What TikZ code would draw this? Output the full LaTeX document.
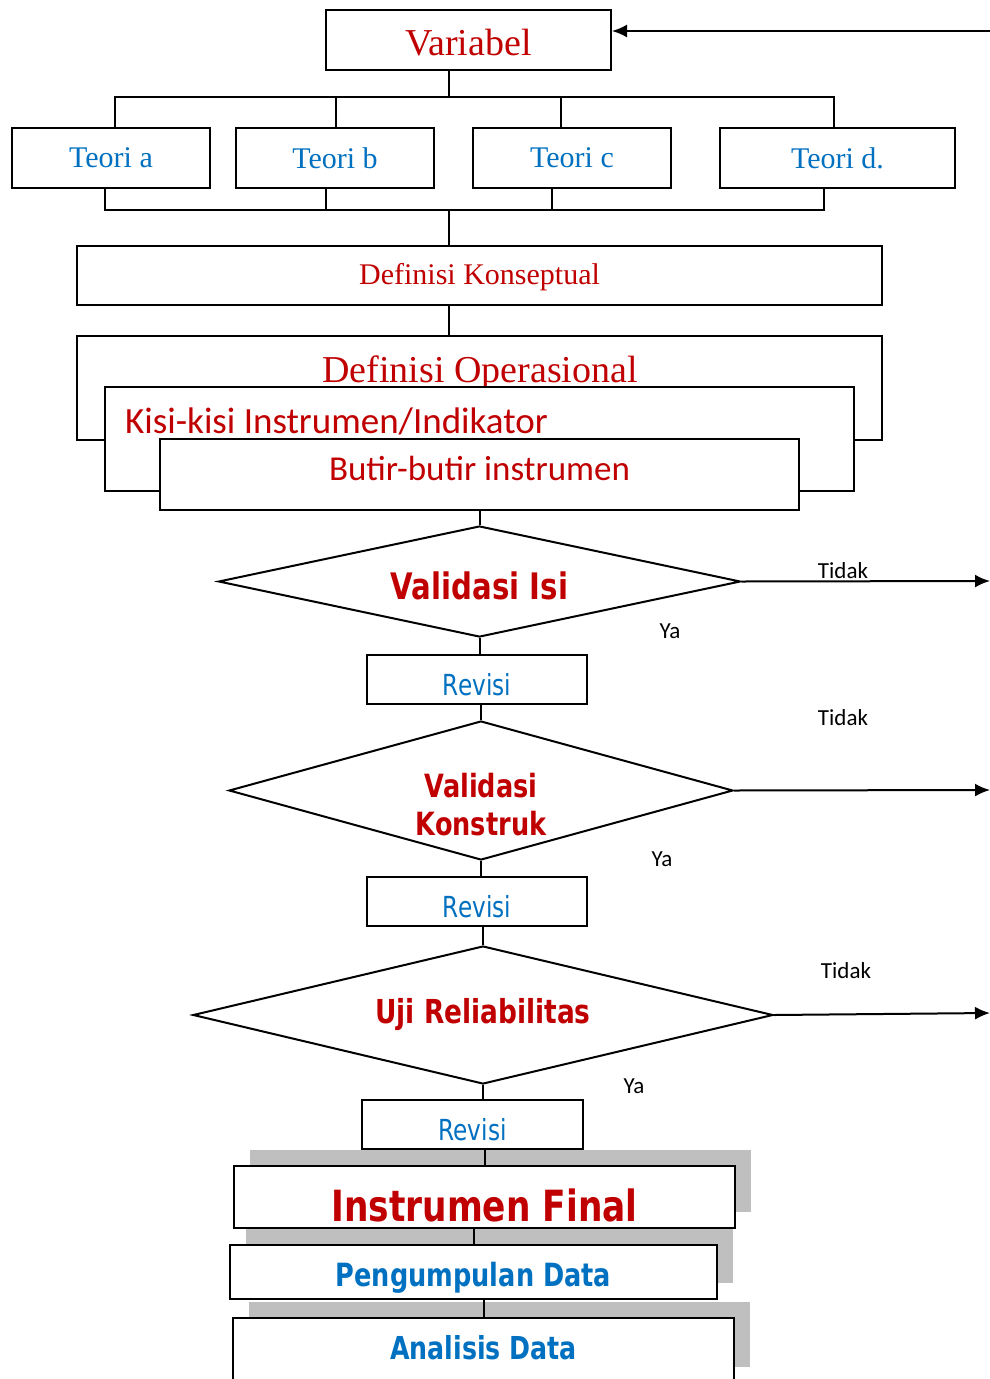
\documentclass[tikz,border=0pt]{standalone}
\usepackage{fontspec}
\setmainfont{Liberation Serif}
\newfontfamily\califont{Carlito}
\newfontfamily\tahofont[FakeStretch=0.8]{DejaVu Sans}
\usepackage{tikz}
\usetikzlibrary{shapes,arrows.meta,shadows}
\usetikzlibrary{calc}
\definecolor{darkred}{RGB}{192,0,0}
\definecolor{wordblue}{RGB}{0,112,192}
\definecolor{shade}{RGB}{191,191,191}
\tikzstyle{flat} = [text height=0pt, text depth=0pt]
\tikzstyle{box} = [rectangle, draw, fill=white, line width=2pt, inner sep=0pt]
\tikzstyle{teori} = [box, minimum width=198pt, minimum height=60pt, text=wordblue,
    font=\fontsize{30}{30}\selectfont]
\tikzstyle{decision} = [diamond, draw, flat, line width=2pt, inner sep=0pt, text=darkred]
\tikzstyle{revisi} = [box, flat, minimum width=220pt, minimum height=49pt, text=wordblue,
    font=\tahofont\fontsize{29}{29}\selectfont]
\tikzstyle{final} = [box, flat, drop shadow={shadow xshift=16pt, shadow yshift=16pt, fill=shade, opacity=1}]
\tikzstyle{note} = [font=\califont\fontsize{23}{23}\selectfont]
\tikzstyle{line} = [draw, line width=2pt]
\tikzstyle{arrowline} = [line, -{Latex[length=15pt, width=13pt]}]

\begin{document}
\begin{tikzpicture}[x=1pt, y=-1pt]
    \clip (0,0) rectangle (990,1379);
    \node [box, flat, minimum width=285pt, minimum height=60pt, text=darkred,
        font=\fontsize{38}{38}\selectfont] (variabel) at (468.5,40) {\raisebox{-15.6pt}{Variabel}};
    \coordinate (feedback) at (990,31);
    \coordinate (topbus) at (449,97);
    \coordinate (lowbus) at (449,210);
    \node [teori] (teoria) at (111,158) {Teori a};
    \node [teori] (teorib) at (335,158) {Teori b};
    \node [teori] (teoric) at (572,158) {Teori c};
    \node [teori, minimum width=235pt] (teorid) at (837.5,158) {Teori d.};
    \node [box, flat, minimum width=805pt, minimum height=59pt, text=darkred,
        font=\fontsize{30}{30}\selectfont] (konsep) at (479.5,275.5) {\raisebox{-9.4pt}{Definisi Konseptual}};
    \node [box, minimum width=805pt, minimum height=104pt] (operasi) at (479.5,388) {};
    \node [text=darkred, font=\fontsize{38}{38}\selectfont] (operasitext) at (480,373) {Definisi Operasional};
    \node [box, minimum width=749pt, minimum height=104pt] (kisi) at (479.5,439) {};
    \node [anchor=west, inner xsep=0pt, text=darkred, font=\califont\fontsize{37}{37}\selectfont]
        (kisitext) at (125,421) {Kisi-kisi Instrumen/Indikator};
    \node [box, flat, minimum width=639pt, minimum height=71pt, text=darkred,
        font=\califont\fontsize{35}{35}\selectfont] (butir) at (479.5,474.5) {\raisebox{-5.8pt}{Butir-butir instrumen}};

    \node [decision, minimum width=522pt, minimum height=111pt, shape aspect=4.7,
        font=\tahofont\bfseries\fontsize{36.5}{36.5}\selectfont] (isi) at (479.5,581.5) {\raisebox{-17.8pt}{Validasi Isi}};
    \node [revisi] (revisi1) at (477,679.5) {\raisebox{-16pt}{Revisi}};
    \node [decision, minimum width=504pt, minimum height=139pt, shape aspect=3.6,
        font=\tahofont\bfseries\fontsize{32}{38}\selectfont] (konstruk) at (481,790.5)
        {\raisebox{-44.5pt}{\begin{tabular}[b]{@{}c@{}}Validasi\\Konstruk\end{tabular}}};
    \node [revisi] (revisi2) at (477,901.5) {\raisebox{-16pt}{Revisi}};
    \node [decision, minimum width=580pt, minimum height=138pt, shape aspect=4.2,
        font=\tahofont\bfseries\fontsize{33}{33}\selectfont] (reliabel) at (483,1015) {\raisebox{-8pt}{Uji Reliabilitas}};
    \node [revisi, minimum width=221pt] (revisi3) at (472.5,1124.5) {\raisebox{-16pt}{Revisi}};

    \node [final, minimum width=501pt, minimum height=62pt, text=darkred,
        font=\tahofont\bfseries\fontsize{43}{43}\selectfont] (instrumen) at (484.5,1197) {\raisebox{-24.7pt}{Instrumen Final}};
    \node [final, minimum width=487pt, minimum height=54pt, text=wordblue,
        font=\tahofont\bfseries\fontsize{32}{32}\selectfont] (pengumpulan) at (473.5,1272) {\raisebox{-14.7pt}{Pengumpulan Data}};
    \node [final, minimum width=501pt, minimum height=65pt, text=wordblue,
        font=\tahofont\bfseries\fontsize{31.6}{31.6}\selectfont] (analisis) at (483.5,1350.5) {\raisebox{-9pt}{Analisis Data}};

    \coordinate (outisi) at (990,581);
    \coordinate (outkonstruk) at (990,790);
    \coordinate (outreliabel) at (990,1013);
    \node [note] (tidak1) at (843,571) {Tidak};
    \node [note] (tidak2) at (843,718) {Tidak};
    \node [note] (tidak3) at (846,971) {Tidak};
    \node [note] (ya1) at (670,631) {Ya};
    \node [note] (ya2) at (662,859) {Ya};
    \node [note] (ya3) at (634,1086) {Ya};

    % Draw edges
    \path[arrowline] (feedback) -- (feedback -| variabel.east);
    \path[line] (variabel.south -| topbus) -- (topbus);
    \path[line] ([xshift=4pt]teoria.north) |- ([xshift=-3.5pt]teorid.north |- topbus) -- ([xshift=-3.5pt]teorid.north);
    \path[line] ([xshift=1pt]teorib.north) -- ([xshift=1pt]teorib.north |- topbus);
    \path[line] ([xshift=-11pt]teoric.north) -- ([xshift=-11pt]teoric.north |- topbus);
    \path[line] ([xshift=-6pt]teoria.south) |- ([xshift=-13.5pt]teorid.south |- lowbus) -- ([xshift=-13.5pt]teorid.south);
    \path[line] ([xshift=-9pt]teorib.south) -- ([xshift=-9pt]teorib.south |- lowbus);
    \path[line] ([xshift=-20pt]teoric.south) -- ([xshift=-20pt]teoric.south |- lowbus);
    \path[line] (lowbus) -- (konsep.north -| lowbus);
    \path[line] (konsep.south -| lowbus) -- (operasi.north -| lowbus);
    \path[line] (butir.south) -- (isi.north);
    \path[line] (isi.south) -- (isi.south |- revisi1.north);
    \path[line] (konstruk.north |- revisi1.south) -- (konstruk.north);
    \path[line] (konstruk.south) -- (konstruk.south |- revisi2.north);
    \path[line] (reliabel.north |- revisi2.south) -- (reliabel.north);
    \path[line] (reliabel.south) -- (reliabel.south |- revisi3.north);
    \path[line] (instrumen.north |- revisi3.south) -- (instrumen.north);
    \path[line] (instrumen.south -| pengumpulan.north) -- (pengumpulan.north);
    \path[line] (pengumpulan.south -| analisis.north) -- (analisis.north);
    \path[arrowline] (isi.east) -- (outisi);
    \path[arrowline] (konstruk.east) -- (outkonstruk);
    \path[arrowline] (reliabel.east) -- (outreliabel);
\end{tikzpicture}
\end{document}
